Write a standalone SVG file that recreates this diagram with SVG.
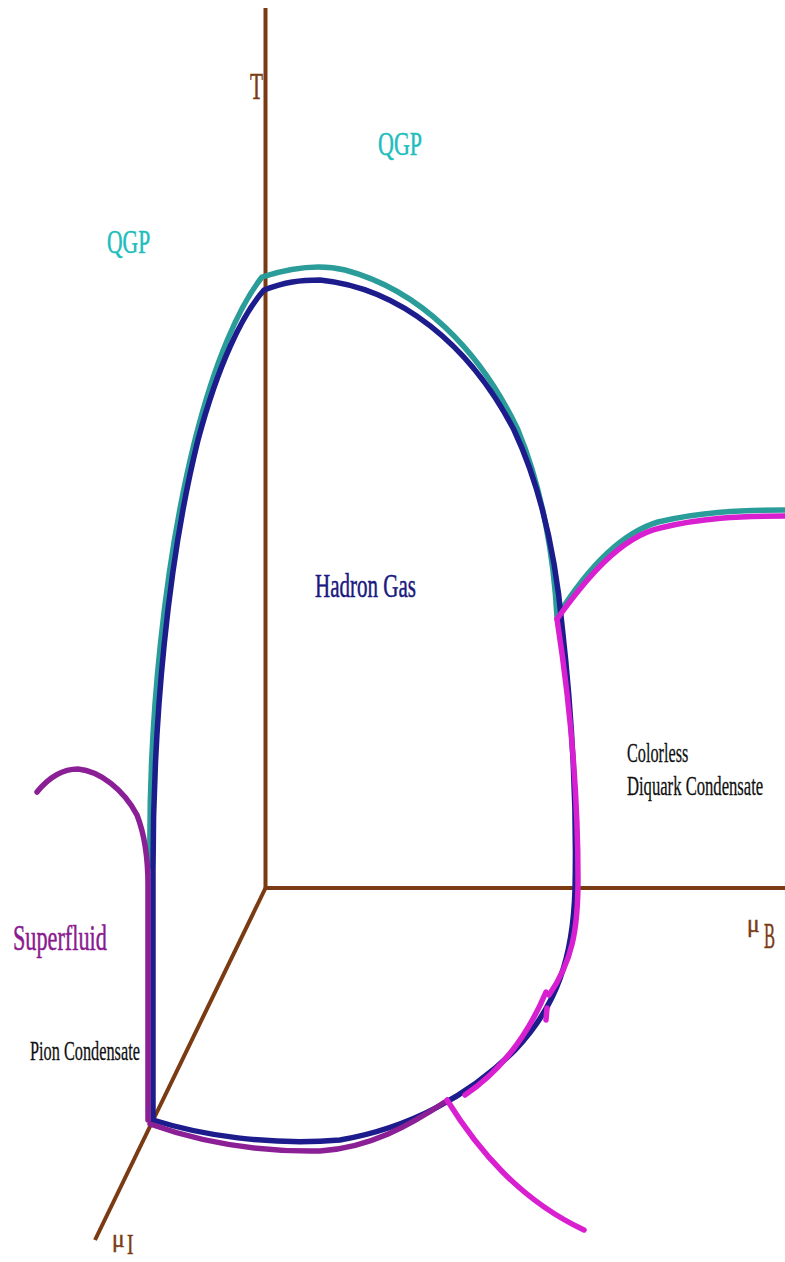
<svg xmlns="http://www.w3.org/2000/svg" width="785" height="1262" viewBox="0 0 785 1262">
<style>
.ax{stroke:#7a3b12;stroke-width:4;fill:none;stroke-linecap:butt}
.c{fill:none;stroke-width:5.5;stroke-linecap:round;stroke-linejoin:round}
.teal{stroke:#2a9d9a}
.navy{stroke:#1c1c8c}
.mag{stroke:#d820d0}
.pur{stroke:#8b1f95}
text{font-family:"Liberation Serif","DejaVu Serif",serif;stroke-width:0.5}
.brown{fill:#7a3b12;stroke:#7a3b12}
.cyan{fill:#20bdbd;stroke:#20bdbd}
.blk{fill:#111;stroke:#111;stroke-width:0.3}
</style>
<rect width="785" height="1262" fill="#ffffff"/>
<g id="axes">
<line class="ax" x1="265.500" y1="8" x2="265.500" y2="890"/>
<line class="ax" x1="264" y1="888" x2="785" y2="888"/>
<line class="ax" x1="266" y1="887" x2="95" y2="1240"/>
</g>
<g id="connectors">
<path class="c teal" d="M150,866 C148,720 165,560 195,440 C215,360 240,305 262,277 C290,268 320,264 345,270 C420,290 480,350 518,430 C543,490 554,560 557,617 C580,580 615,535 658,522 C700,512 740,510 785,510"/>
<path class="c navy" d="M153,1118 L153,870 C153,720 168,560 198,440 C218,365 242,315 264,290 C285,282 300,280 320,280 C400,288 470,345 514,430 C543,492 556,560 562,625 C571,705 577,800 575,890 C573,955 558,1005 515,1050 C470,1095 410,1128 340,1140 C270,1146 200,1135 153,1120"/>
<path class="c pur" d="M37,792 C50,776 64,769 78,769 C100,771 124,790 137,815 C144,833 148,858 148,885 L148,1120" stroke-width="6.500"/>
<path class="c pur" d="M150,1124 C200,1142 260,1152 320,1151 C370,1148 410,1125 445,1102" stroke-width="6.500"/>
<path class="c mag" d="M557,619 C568,690 578,780 578,880 C578,930 572,962 549,995"/>
<path class="c mag" d="M546,992 C530,1030 505,1068 465,1095"/>
<path class="c mag" d="M547,1008 L546,1020" stroke-width="2.500"/>
<path class="c mag" d="M447,1100 C478,1150 520,1200 584,1230" stroke-width="6"/>
<path class="c mag" d="M557,619 C585,580 620,537 660,528 C700,518 740,516 785,516"/>
</g>
<g id="label-T"><text class="brown" font-size="37" transform="translate(250,99) scale(0.575,1)">T</text></g>
<g id="label-QGP-top"><text class="cyan" font-size="34" transform="translate(378,155) scale(0.647,1)">QGP</text></g>
<g id="label-QGP-left"><text class="cyan" font-size="34" transform="translate(107,253) scale(0.635,1)">QGP</text></g>
<g id="label-hadron"><text font-size="33" fill="#1a1a80" stroke="#1a1a80" stroke-width="0.6" transform="translate(315,597) scale(0.637,1)">Hadron Gas</text></g>
<g id="label-colorless"><text class="blk" font-size="28" transform="translate(627,762) scale(0.58,1)">Colorless</text>
<text class="blk" font-size="28" transform="translate(627,795) scale(0.594,1)">Diquark Condensate</text></g>
<g id="label-superfluid"><text font-size="36" fill="#8a1a90" stroke="#8a1a90" stroke-width="0.6" transform="translate(13,950) scale(0.618,1)">Superfluid</text></g>
<g id="label-pion"><text class="blk" font-size="28" transform="translate(30,1060) scale(0.582,1)">Pion Condensate</text></g>
<g id="label-muB"><text class="brown" font-size="26" transform="translate(747,932) scale(0.9,1)">μ</text>
<text class="brown" font-size="36" transform="translate(764,948) scale(0.46,1)">B</text></g>
<g id="label-muI"><text class="brown" font-size="26" transform="translate(112,1247) scale(0.9,1)">μ</text>
<text class="brown" font-size="30" transform="translate(127,1254) scale(0.65,1)">I</text></g>
</svg>
